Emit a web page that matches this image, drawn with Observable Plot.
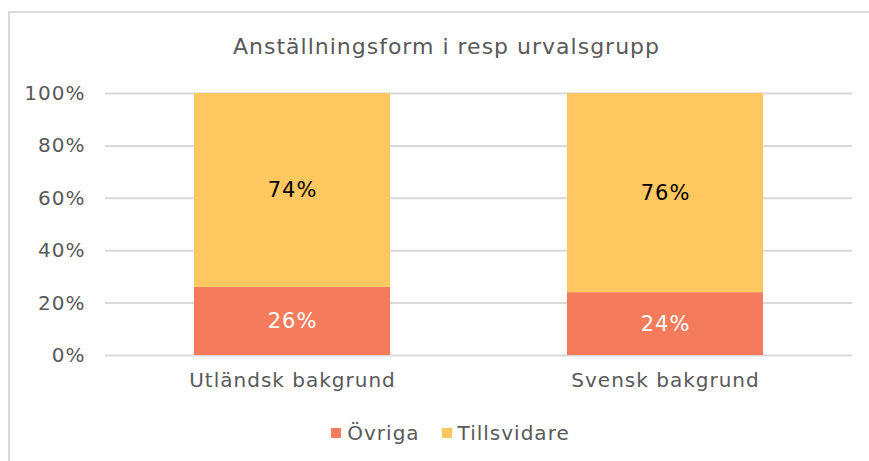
<!DOCTYPE html>
<html>
<head>
<meta charset="utf-8">
<script src="https://cdn.jsdelivr.net/npm/d3@7"></script>
<script src="https://cdn.jsdelivr.net/npm/@observablehq/plot@0.6"></script>
<style>
  html, body { margin: 0; padding: 0; background: #fff; }
  #wrap { position: relative; width: 869px; height: 461px; overflow: hidden; font-family: "DejaVu Sans", sans-serif; color: #595959; }
  #frame { position: absolute; left: 8px; top: 11px; width: 870px; height: 460px; border-top: 2px solid #d9d9d9; border-left: 2px solid #d9d9d9; box-sizing: border-box; }
  #title { position: absolute; left: 0; top: 0; width: 869px; height: 75px; line-height: 94px; text-align: center; font-size: 22px; letter-spacing: 1px; padding-left: 24px; box-sizing: border-box; }
  #chart { position: absolute; left: 0; top: 75px; }
  #chart svg text { letter-spacing: 1px; }
  #legend { position: absolute; left: 0; top: 405px; width: 869px; height: 56px; display: flex; justify-content: center; align-items: center; font-size: 20px; letter-spacing: 1px; gap: 22px; padding-left: 32px; box-sizing: border-box; }
  .item { display: flex; align-items: center; gap: 6px; }
  .sw { width: 10px; height: 10px; display: inline-block; }
</style>
</head>
<body>
<div id="wrap">
  <div id="frame"></div>
  <div id="title">Anställningsform i resp urvalsgrupp</div>
  <div id="chart"></div>
  <div id="legend"></div>
</div>
<script>
const groups = ["Utländsk bakgrund", "Svensk bakgrund"];
const series = ["Övriga", "Tillsvidare"];
const ovriga = [26, 24];
const tillsvidare = [74, 76];
const yTicks = [0, 20, 40, 60, 80, 100];
const colors = ["#F47C5C", "#FEC75F"];

const data = [];
groups.forEach((g, i) => {
  data.push({group: g, series: series[0], value: ovriga[i]});
  data.push({group: g, series: series[1], value: tillsvidare[i]});
});

const chart = Plot.plot({
  width: 869,
  height: 330,
  marginLeft: 105,
  marginRight: 17,
  marginTop: 18,
  marginBottom: 50,
  style: {fontFamily: "DejaVu Sans, sans-serif", fontSize: "20px", color: "#595959", background: "transparent"},
  x: {domain: groups, paddingInner: 0.475, paddingOuter: 0.2375, label: null, tickSize: 0, tickPadding: 17},
  y: {domain: [0, 100], ticks: yTicks, tickFormat: d => d + "%", label: null, tickSize: 0, tickPadding: 20},
  color: {domain: series, range: colors},
  marks: [
    Plot.gridY(yTicks, {stroke: "#d9d9d9", strokeOpacity: 1, strokeWidth: 2}),
    Plot.barY(data, {x: "group", y: "value", fill: "series"}),
    Plot.text(data, Plot.stackY({x: "group", y: "value", text: d => d.series === series[0] ? d.value + "%" : "", fill: "white", fontSize: 21})),
    Plot.text(data, Plot.stackY({x: "group", y: "value", text: d => d.series === series[1] ? d.value + "%" : "", fill: "black", fontSize: 21}))
  ]
});
document.getElementById("chart").appendChild(chart);

const legend = document.getElementById("legend");
series.forEach((s, i) => {
  const item = document.createElement("div");
  item.className = "item";
  const sw = document.createElement("span");
  sw.className = "sw";
  sw.style.background = colors[i];
  const t = document.createElement("span");
  t.textContent = s;
  item.appendChild(sw);
  item.appendChild(t);
  legend.appendChild(item);
});
</script>
</body>
</html>
